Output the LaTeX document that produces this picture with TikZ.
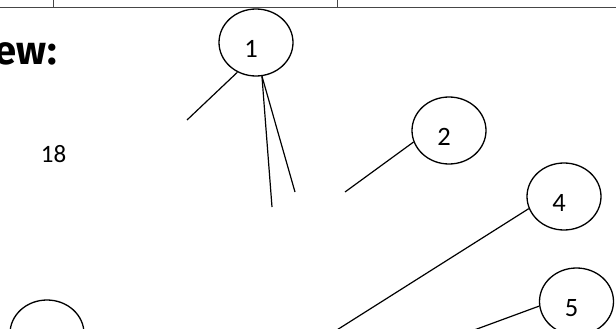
\documentclass[tikz,border=0pt]{standalone}
\usepackage{fontspec}
\setmainfont{Carlito}
\newfontfamily\headfont{Fira Sans}
\usetikzlibrary{shapes.geometric}
\definecolor{rulegray}{RGB}{70, 70, 70}

\begin{document}
\begin{tikzpicture}[x=1pt, y=-1pt,
  bubble/.style={ellipse, draw, line width=1.3pt, minimum width=74pt,
                 minimum height=67pt, inner sep=0pt},
  numtext/.style={font=\fontsize{26.5}{26.5}\selectfont, inner sep=0pt,
                  xshift=-5pt, yshift=-6.5pt},
  link/.style={line width=1.2pt}]

  \useasboundingbox (0,0) rectangle (616,329);
  \clip (0,0) rectangle (616,329);

  % ── Table edge at the top ─────────────────────────────────────────────────
  \draw[rulegray, line width=1pt] (0,7.5) -- (616,7.5);
  \draw[rulegray, line width=1pt] (53,0) -- (53,7.5);
  \draw[rulegray, line width=1pt] (337,0) -- (337,7.5);

  % ── Heading and page number ───────────────────────────────────────────────
  \node[font=\headfont\bfseries\fontsize{40}{40}\selectfont,
        anchor=base east, inner sep=0pt] (head) at (57,65) {ew\kern1pt:};
  \node[font=\fontsize{25}{25}\selectfont, inner sep=0pt] (page) at (53.5,154) {18};

  % ── Callout bubbles ───────────────────────────────────────────────────────
  \node[bubble] (c1) at (256,42.5) {};
  \node[numtext] (t1) at (c1) {1};
  \node[bubble] (c2) at (449,130.5) {};
  \node[numtext] (t2) at (c2) {2};
  \node[bubble] (c3) at (47,333.5) {};
  \node[bubble] (c4) at (564,196.5) {};
  \node[numtext] (t4) at (c4) {4};
  \node[bubble] (c5) at (576.5,301.5) {};
  \node[numtext] (t5) at (c5) {5};

  % ── Free ends of the leader lines ─────────────────────────────────────────
  \coordinate (e1a) at (187,120);
  \coordinate (e1b) at (272,207);
  \coordinate (e1c) at (295,192);
  \coordinate (e2) at (345,192);
  \coordinate (e4) at (321,340);
  \coordinate (e5) at (447,340);

  % ── Leader lines ──────────────────────────────────────────────────────────
  \draw[link] (c1.238) -- (e1a);
  \draw[link] (c1.280) -- (e1b);
  \draw[link] (c1.280) -- (e1c);
  \draw[link] (c2.198) -- (e2);
  \draw[link] (c4.199) -- (e4);
  \draw[link] (c5.187) -- (e5);

\end{tikzpicture}
\end{document}
